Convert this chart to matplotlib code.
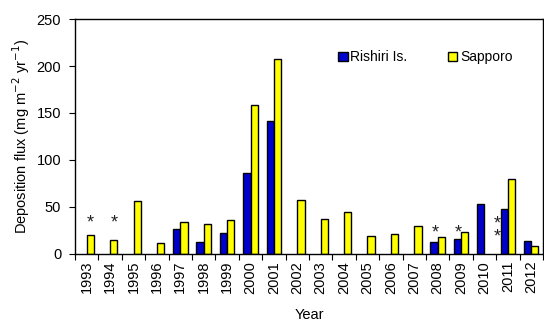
import numpy as np
import matplotlib.pyplot as plt

plt.rcParams['font.family'] = ['Liberation Sans', 'DejaVu Sans']

years = list(range(1993, 2013))
rishiri = [np.nan, np.nan, np.nan, np.nan, 27, 13, 22, 86, 141, np.nan,
           np.nan, np.nan, np.nan, np.nan, np.nan, 13, 16, 53, 48, 14]
sapporo = [20, 15, 56, 12, 34, 32, 36, 159, 208, 57,
           37, 45, 19, 21, 30, 18, 23, np.nan, 80, 8]

# asterisk marks: (year, offset in category units, y value, text)
stars = [(1993, 0.15, 33, '*'), (1994, 0.18, 33, '*'),
         (2008, -0.1, 22, '*'), (2009, -0.1, 22, '*'),
         (2010, 0.55, 25, '*\n*')]

fig = plt.figure(figsize=(5.44, 3.23), dpi=100)
ax = fig.add_axes([0.138, 0.214, 0.860, 0.727])

x = np.arange(len(years))
w = 0.31
ax.bar(x - w / 2, rishiri, w, color='#0000cc', edgecolor='black', linewidth=1.0,
       label='Rishiri Is.')
ax.bar(x + w / 2, sapporo, w, color='#ffff00', edgecolor='black', linewidth=1.0,
       label='Sapporo')

for yr, off, yv, s in stars:
    ax.text(years.index(yr) + off, yv, s, ha='center', va='center',
            fontsize=13, color='#222222', linespacing=0.75)

ax.set_xlim(-0.5, len(years) - 0.5)
ax.set_ylim(0, 250)
ax.set_yticks([0, 50, 100, 150, 200, 250])
ax.set_xticks(np.arange(len(years) + 1) - 0.5)
ax.set_xticklabels([])
ax.set_xticks(x, minor=True)
ax.set_xticklabels([str(y) for y in years], minor=True, rotation=90, fontsize=10.5)
ax.tick_params(axis='x', which='minor', length=0, pad=5)
ax.tick_params(axis='x', which='major', length=4, direction='out')
ax.tick_params(axis='y', length=4, direction='out', labelsize=10.5, pad=6)
for sp in ax.spines.values():
    sp.set_linewidth(1.0)

ax.set_xlabel('Year', fontsize=10.5, labelpad=10)
ax.set_ylabel('Deposition flux (mg m$^{-2}$ yr$^{-1}$)', fontsize=10.5, labelpad=3)

ax.legend(loc='upper left', bbox_to_anchor=(0.535, 0.92), ncol=2, frameon=False,
          fontsize=10, handlelength=0.7, handleheight=0.7, handletextpad=0.2,
          columnspacing=2.9)

fig.savefig('out.png', dpi=100)
